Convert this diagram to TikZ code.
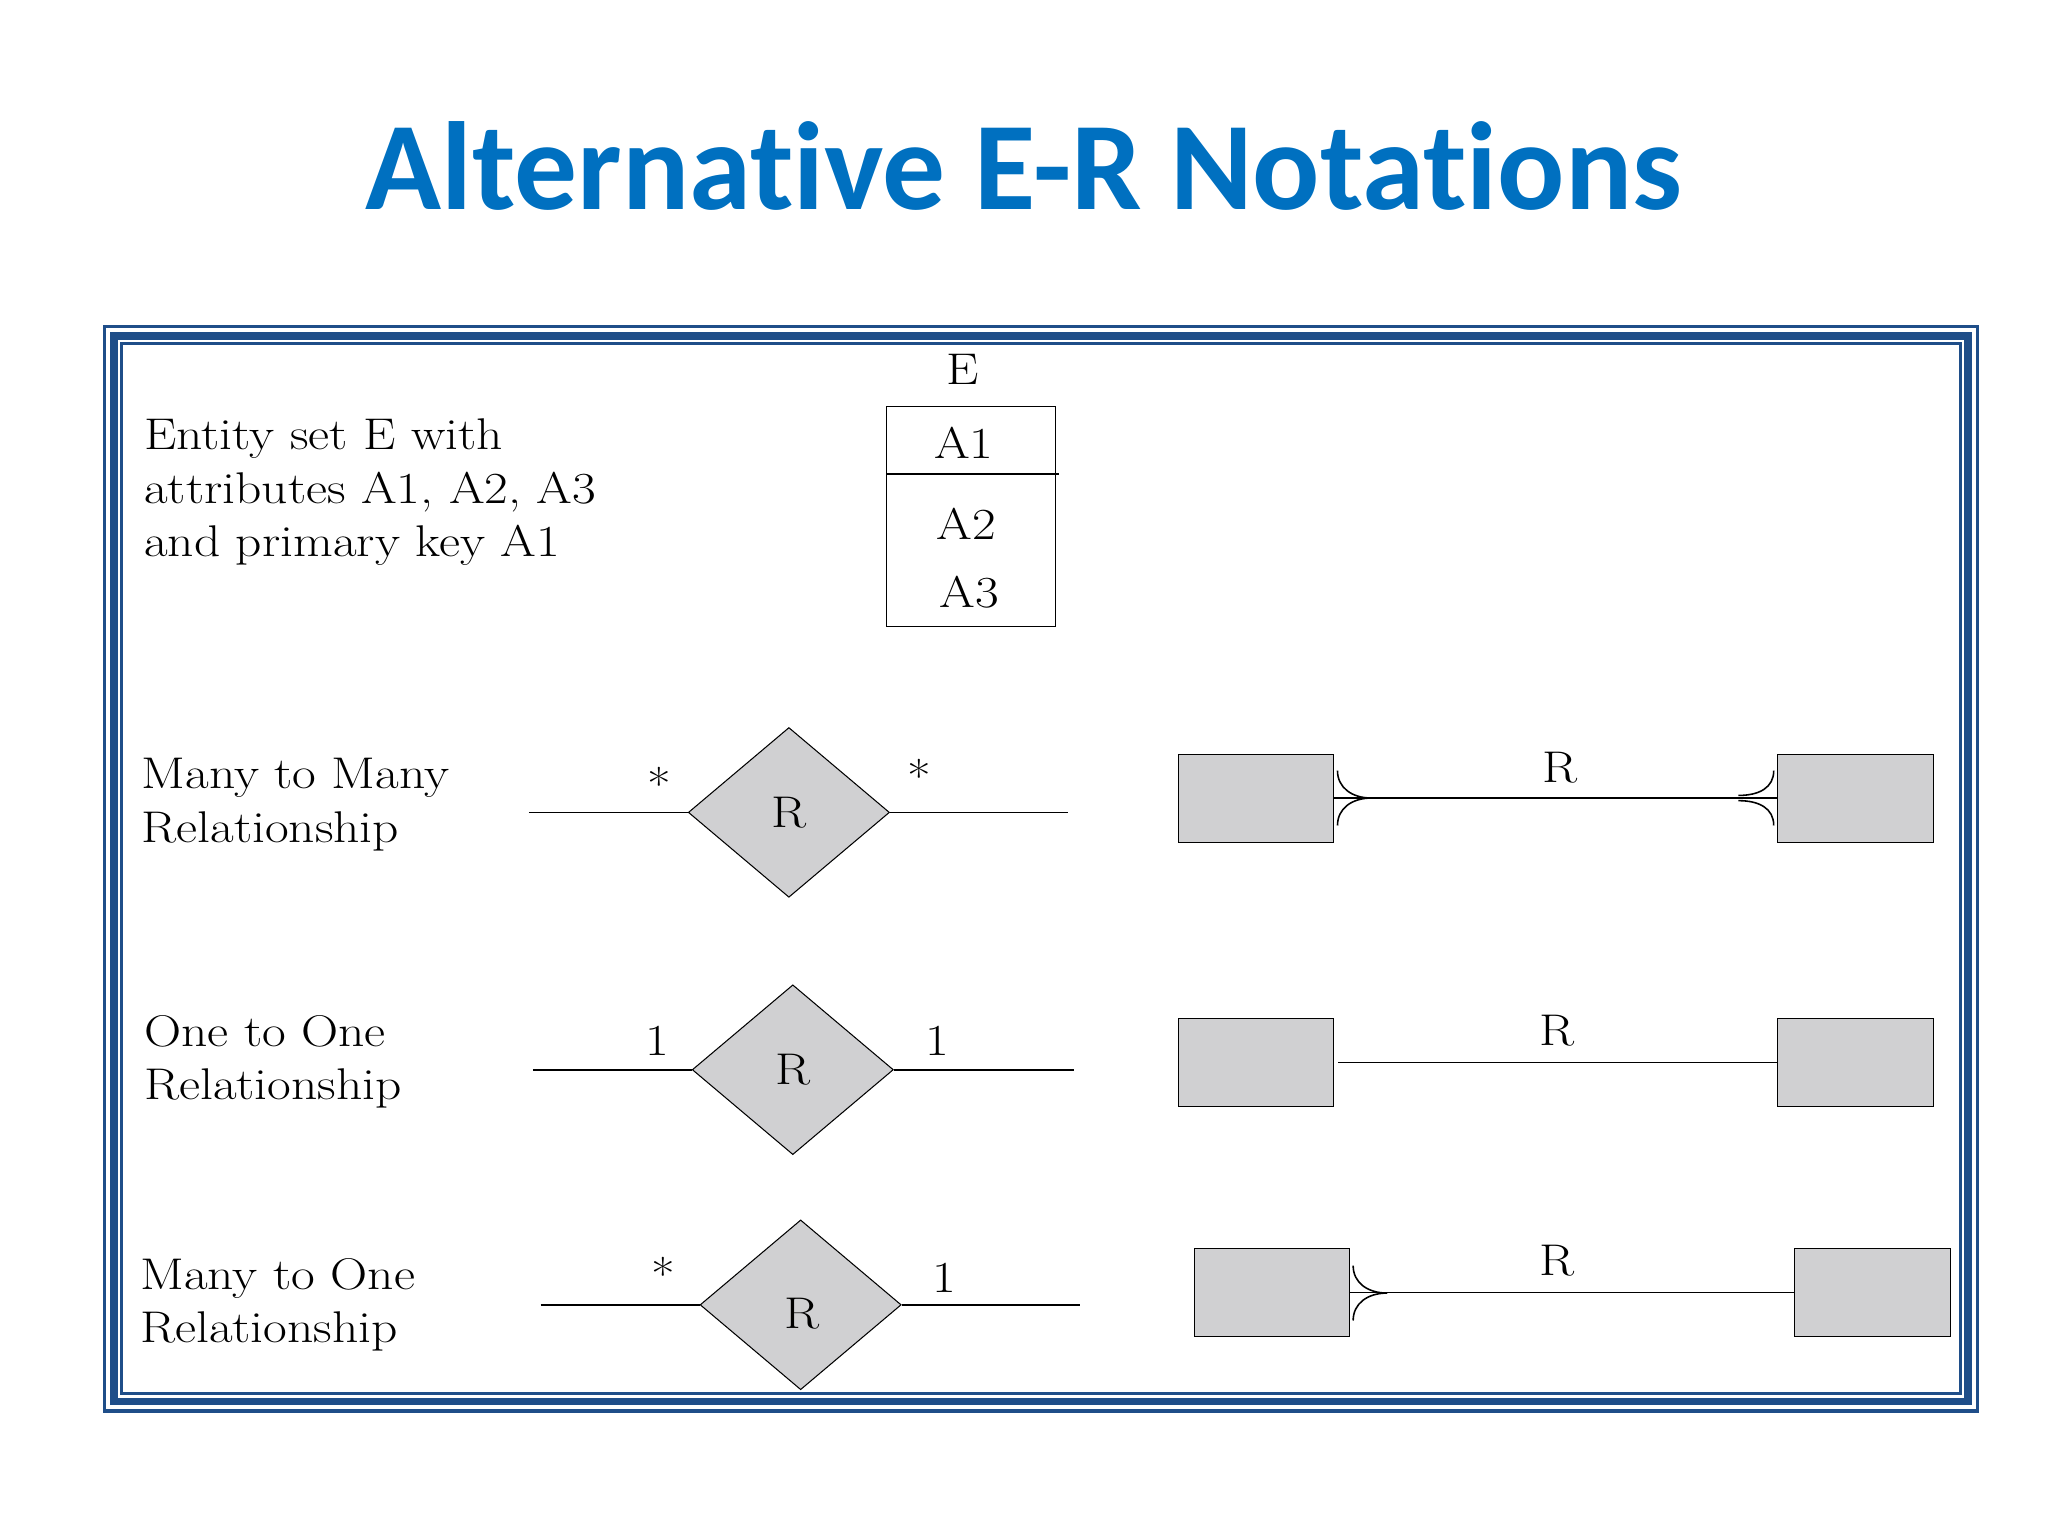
\documentclass[tikz,border=0pt]{standalone}
\usepackage{fontspec}
\setmainfont{Latin Modern Roman}[FakeStretch=1.16]
\newfontfamily\titlefont{Carlito}[Ligatures=NoCommon]
\usetikzlibrary{shapes.geometric}
\definecolor{ttl}{HTML}{0070C0}
\definecolor{frm}{HTML}{1F4E89}
\definecolor{gr}{HTML}{D0D0D2}
\tikzset{
 lbl/.style={anchor=west,align=left,font=\fontsize{17}{20.5}\selectfont,inner sep=0},
 dia/.style={diamond,draw,fill=gr,minimum width=77pt,minimum height=65pt,inner sep=0,font=\fontsize{17}{20}\selectfont},
 ent/.style={draw,fill=gr,minimum width=59.5pt,minimum height=33.5pt,inner sep=0},
 mk/.style={font=\fontsize{17}{20}\selectfont,inner sep=0},
 ln/.style={line width=0.6pt},
}
\begin{document}
\begin{tikzpicture}[x=0.5pt,y=-0.5pt]
\useasboundingbox (0,0) rectangle (1568,1176);
\node[font=\titlefont\bfseries\fontsize{48}{54}\selectfont,text=ttl] (title) at (784,127) {Alternative E-R Notations};
% frame
\draw[frm,line width=1.5pt] (80,250) rectangle (1514,1080);
\draw[frm,line width=3pt] (87,257) rectangle (1507,1073);
\draw[frm,line width=1pt] (93,263) rectangle (1501,1067);
% entity
\node[lbl] (t0) at (110,377) {Entity set E with\\attributes A1, A2, A3\\and primary key A1};
\node[draw,minimum width=64.5pt,minimum height=84.5pt,inner sep=0] (E) at (743.5,395.5) {};
\coordinate (sa) at (679,363); \coordinate (sb) at (811,363);
\draw[ln] (sa) -- (sb);
\node[mk] (En) at (737,283) {E};
\node[mk] (a1) at (738,339) {A1};
\node[mk] (a2) at (740,401) {A2};
\node[mk] (a3) at (742,453) {A3};
% row 1
\node[lbl] (t1) at (108,616) {Many to Many\\Relationship};
\node[dia] (d1) at (604,622) {R};
\coordinate (l1) at (405,622); \coordinate (r1) at (818,622);
\draw[ln] (l1) -- (d1.west); \draw[ln] (d1.east) -- (r1);
\node[mk] at (505,600) {*}; \node[mk] at (704,594) {*};
\node[ent] (b1l) at (961.5,611.5) {}; \node[ent] (b1r) at (1420.5,611.5) {};
\coordinate (c1l) at (1021,611); \coordinate (c1r) at (1361,611);
\draw[ln] (c1l) -- (c1r);
\node[mk] (R1) at (1194,588) {R};
\draw[ln] (1024,590) .. controls (1024,603) and (1035,611) .. (1050,611);
\draw[ln] (1024,632) .. controls (1024,619) and (1035,611) .. (1050,611);
\draw[ln] (1358,590) .. controls (1358,603) and (1347,609) .. (1331,609);
\draw[ln] (1358,632) .. controls (1358,619) and (1347,613) .. (1331,613);
% row 2
\node[lbl] (t2) at (110,813) {One to One\\Relationship};
\node[dia] (d2) at (607,819) {R};
\coordinate (l2) at (408,819); \coordinate (r2) at (822,819);
\draw[ln] (l2) -- (d2.west); \draw[ln] (d2.east) -- (r2);
\node[mk] at (503,797) {1}; \node[mk] at (718,797) {1};
\node[ent] (b2l) at (961.5,813.5) {}; \node[ent] (b2r) at (1420.5,813.5) {};
\draw[ln] (b2l.east) ++(3,0) -- (b2r.west);
\node[mk] (R2) at (1192,789) {R};
% row 3
\node[lbl] (t3) at (107,999) {Many to One\\Relationship};
\node[dia] (d3) at (613,999) {};
\node[mk] (R3d) at (614,1006) {R};
\coordinate (l3) at (414,999); \coordinate (r3) at (827,999);
\draw[ln] (l3) -- (d3.west); \draw[ln] (d3.east) -- (r3);
\node[mk] at (508,975) {*}; \node[mk] at (723,978) {1};
\node[ent] (b3l) at (974,989.5) {}; \node[ent] (b3r) at (1433.5,989.5) {};
\draw[ln] (b3l.east) -- (b3r.west);
\node[mk] (R3) at (1192,965) {R};
\draw[ln] (1036,969) .. controls (1036,982) and (1047,990) .. (1062,990);
\draw[ln] (1036,1011) .. controls (1036,998) and (1047,990) .. (1062,990);
\end{tikzpicture}
\end{document}
